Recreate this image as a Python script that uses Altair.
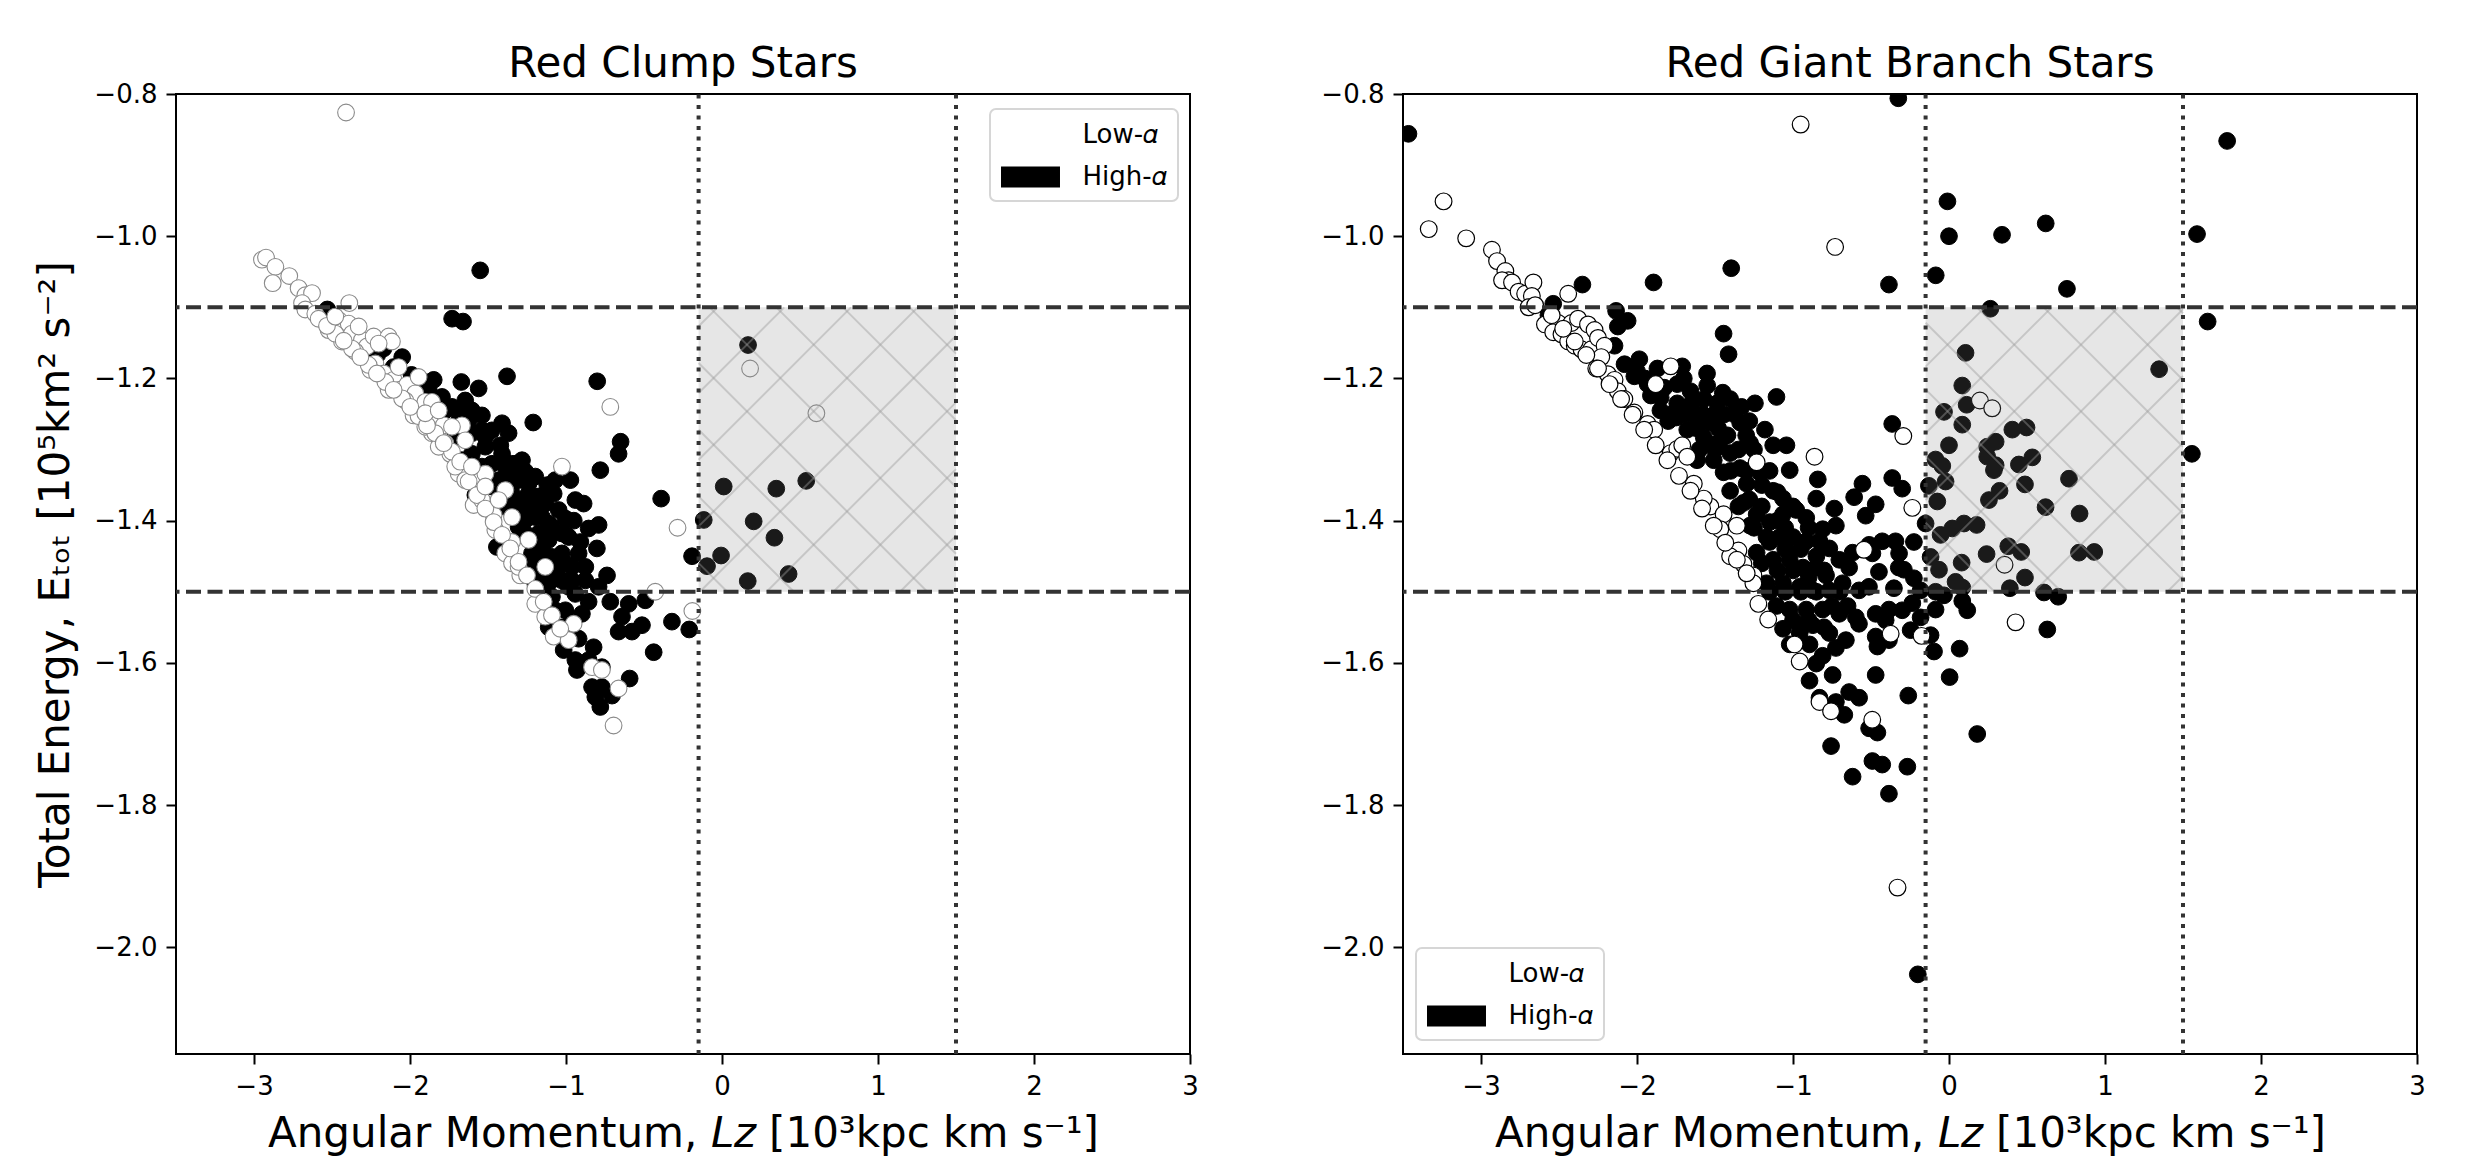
import altair as alt
import pandas as pd

FONT = "DejaVu Sans"
W, H = 1014, 960
XMIN, XMAX = -3.5, 3.0
YMIN, YMAX = -2.15, -0.8

# ---------------- Red Clump : low-alpha (open circles) ----------------
rc_low = [
    (-2.41, -0.826),
    (-2.949, -1.033), (-2.923, -1.030), (-2.863, -1.043), (-2.88, -1.066), (-2.774, -1.056),
    (-2.714, -1.073), (-2.671, -1.083), (-2.628, -1.080), (-2.692, -1.094), (-2.671, -1.103),
    (-2.607, -1.109), (-2.389, -1.094), (-2.457, -1.118), (-2.522, -1.132), (-2.393, -1.123),
    (-2.372, -1.137), (-2.436, -1.148), (-2.308, -1.146), (-2.276, -1.155), (-2.233, -1.141),
    (-2.137, -1.141), (-2.116, -1.148), (-2.351, -1.162), (-2.222, -1.179), (-2.254, -1.188),
    (-2.169, -1.193), (-2.105, -1.202), (-2.137, -1.216), (-2.073, -1.216), (-2.019, -1.209),
    (-1.966, -1.221), (-2.03, -1.231), (-1.977, -1.252), (-1.902, -1.233), (-1.859, -1.233),
    (-1.848, -1.256), (-1.859, -1.277), (-1.902, -1.268), (-1.784, -1.266), (-1.774, -1.291),
    (-1.742, -1.306), (-1.667, -1.266), (-1.816, -1.296), (-1.688, -1.334), (-1.646, -1.343),
    (-1.71, -1.324), (-1.592, -1.378), (-1.539, -1.371), (-1.517, -1.334), (-1.464, -1.392),
    (-1.453, -1.413), (-1.389, -1.357), (-1.346, -1.43), (-1.389, -1.446), (-1.346, -1.46),
    (-1.293, -1.477), (-1.304, -1.465), (-1.197, -1.517), (-1.133, -1.535), (-1.026, -1.324),
    (-1.079, -1.563), (-0.983, -1.568), (-0.951, -1.545), (-0.833, -1.606), (-0.77, -1.610),
    (-0.695, -1.688), (-0.716, -1.240), (-0.663, -1.636), (-0.428, -1.50),
    (-2.586, -1.116), (-2.479, -1.137), (-2.372, -1.158), (-2.265, -1.181), (-2.158, -1.205),
    (-2.051, -1.228), (-1.945, -1.253), (-1.838, -1.277), (-1.731, -1.303),
    (-2.532, -1.126), (-2.425, -1.147), (-2.318, -1.17), (-2.212, -1.193), (-2.105, -1.216),
    (-1.998, -1.24), (-1.891, -1.266), (-1.784, -1.291), (-1.678, -1.317),
    (-1.624, -1.345), (-1.571, -1.364), (-1.517, -1.383), (-1.464, -1.402), (-1.41, -1.42),
    (-1.357, -1.439), (-1.304, -1.458), (-1.25, -1.477), (-1.197, -1.496), (-1.143, -1.514),
    (-1.09, -1.533), (-1.037, -1.552),
    (-2.479, -1.113), (-2.329, -1.127), (-2.201, -1.151), (-2.073, -1.184), (-1.945, -1.198),
    (-1.902, -1.249), (-1.816, -1.245), (-1.731, -1.268), (-1.646, -1.287), (-1.603, -1.324),
    (-1.517, -1.352), (-1.432, -1.371), (-1.346, -1.395), (-1.24, -1.427), (-1.133, -1.465),
    (0.18, -1.186), (0.605, -1.249), (-0.285, -1.41), (-0.19, -1.527),
]
rc_low_x = [p[0] for p in rc_low]
rc_low_y = [p[1] for p in rc_low]

# ---------------- Red Clump : high-alpha (filled black) ----------------
rc_high = [
    (-1.55, -1.048), (-1.73, -1.116), (-1.66, -1.12), (-2.53, -1.103), (-2.17, -1.158),
    (-2.21, -1.167), (-2.05, -1.170), (-2.105, -1.184), (-1.99, -1.195), (-1.902, -1.205),
    (-1.848, -1.202), (-1.671, -1.205), (-1.56, -1.214), (-1.378, -1.197), (-0.80, -1.204),
    (-1.21, -1.262), (-1.41, -1.263), (-1.368, -1.277), (-0.65, -1.289), (-0.663, -1.306),
    (-0.78, -1.329), (-0.39, -1.369), (-1.795, -1.226), (-1.731, -1.240), (-1.646, -1.231),
    (-1.806, -1.266), (-1.71, -1.282), (-1.624, -1.259), (-1.539, -1.273), (-1.517, -1.296),
    (-1.421, -1.294), (-1.475, -1.32), (-1.389, -1.324), (-1.261, -1.331), (-1.197, -1.338),
    (-1.069, -1.343), (-0.972, -1.343), (-1.581, -1.364), (-1.079, -1.362), (-0.94, -1.371),
    (-0.887, -1.376), (-0.791, -1.406), (-0.855, -1.411), (-0.802, -1.439), (-0.908, -1.43),
    (-0.983, -1.423), (-1.004, -1.397), (-1.047, -1.385), (-1.133, -1.376), (-1.197, -1.395),
    (-1.304, -1.381), (-1.346, -1.362), (-1.24, -1.362), (-1.261, -1.418), (-1.175, -1.418),
    (-1.09, -1.409), (-1.154, -1.446), (-1.026, -1.446), (-0.962, -1.465), (-0.876, -1.465),
    (-1.069, -1.470), (-1.175, -1.465), (-1.261, -1.463), (-1.197, -1.488), (-1.111, -1.488),
    (-1.026, -1.484), (-0.94, -1.503), (-0.876, -1.484), (-0.855, -1.514), (-0.737, -1.477),
    (-0.791, -1.493), (-0.716, -1.514), (-0.598, -1.517), (-0.492, -1.512), (-0.641, -1.535),
    (-0.663, -1.556), (-0.577, -1.556), (-0.513, -1.547), (-0.321, -1.542), (-0.438, -1.585),
    (-0.592, -1.622), (-0.919, -1.566), (-0.823, -1.578), (-1.015, -1.582), (-0.94, -1.596),
    (-0.855, -1.596), (-0.93, -1.610), (-0.77, -1.606), (-0.833, -1.634), (-0.77, -1.634),
    (-0.812, -1.648), (-0.78, -1.662), (-0.705, -1.646), (-1.111, -1.55), (-0.962, -1.538),
    (-1.069, -1.526), (-1.154, -1.512), (-1.443, -1.437), (-1.004, -1.526), (-1.41, -1.306),
    (-1.346, -1.334), (-1.304, -1.343), (-1.24, -1.348), (-1.304, -1.371), (-1.218, -1.381),
    (-1.154, -1.395), (-1.261, -1.399), (-1.111, -1.427), (-1.175, -1.432), (-1.09, -1.451),
    (-1.004, -1.46), (-1.133, -1.474), (-0.983, -1.493), (-0.898, -1.531), (-1.026, -1.55),
    (-0.983, -1.559), (-1.88, -1.216), (-1.774, -1.245), (-1.688, -1.249), (-1.603, -1.245),
    (-1.539, -1.252), (-1.517, -1.282), (-1.603, -1.306), (-1.667, -1.315), (-1.539, -1.324),
    (-1.432, -1.343), (-1.475, -1.352), (-1.368, -1.352), (-1.282, -1.315), (-1.325, -1.32),
    (-1.175, -1.366), (-1.111, -1.404), (-1.026, -1.418), (-1.304, -1.409), (-1.218, -1.446),
    (-0.962, -1.484), (-1.09, -1.507), (-0.919, -1.446), (-1.154, -1.493), (-1.475, -1.273),
    (-1.603, -1.277),
    (-1.35, -1.32), (-1.28, -1.42), (-1.15, -1.44), (-1.05, -1.48), (-1.22, -1.47),
    (-1.12, -1.35), (-1.0, -1.42), (-0.95, -1.40), (-1.4, -1.38),
    (0.167, -1.153), (0.011, -1.352), (0.348, -1.355), (0.54, -1.344), (-0.117, -1.399),
    (0.203, -1.401), (0.336, -1.424), (-0.006, -1.449), (-0.096, -1.464), (-0.192, -1.45),
    (0.427, -1.475), (0.165, -1.485), (-0.21, -1.553),
]
rc_high_x = [p[0] for p in rc_high]
rc_high_y = [p[1] for p in rc_high]

# ---------------- Red Giant Branch : low-alpha ----------------
rgb_low = [
    (-3.335, -0.99), (-3.24, -0.951), (-3.095, -1.003), (-0.951, -0.843), (-0.33, -1.916),
    (-0.73, -1.015),
    (-2.93, -1.019), (-2.897, -1.035), (-2.844, -1.049), (-2.823, -1.062), (-2.865, -1.062),
    (-2.801, -1.065), (-2.759, -1.078), (-2.717, -1.081), (-2.664, -1.065), (-2.674, -1.084),
    (-2.695, -1.10), (-2.653, -1.097), (-2.59, -1.124), (-2.505, -1.122), (-2.537, -1.135),
    (-2.441, -1.081), (-2.42, -1.122), (-2.378, -1.116), (-2.484, -1.138), (-2.441, -1.148),
    (-2.399, -1.154), (-2.356, -1.159), (-2.314, -1.124), (-2.272, -1.132), (-2.293, -1.159),
    (-2.25, -1.143), (-2.208, -1.154), (-2.229, -1.17), (-2.261, -1.186), (-2.187, -1.194),
    (-2.144, -1.202), (-2.123, -1.218), (-2.081, -1.229), (-2.017, -1.248), (-1.932, -1.264),
    (-1.89, -1.272), (-1.88, -1.208), (-1.784, -1.183), (-1.784, -1.305), (-1.742, -1.299),
    (-1.71, -1.294), (-1.678, -1.31), (-1.636, -1.348), (-1.53, -1.38), (-1.445, -1.391),
    (-1.36, -1.407), (-1.35, -1.442), (-1.254, -1.477), (-1.233, -1.318), (-1.222, -1.517),
    (-1.159, -1.539), (-0.99, -1.574), (-0.957, -1.598), (-0.862, -1.31), (-0.83, -1.655),
    (-0.756, -1.668), (-1.572, -1.369), (-1.466, -1.412), (-1.403, -1.45), (-1.318, -1.461),
    (-2.547, -1.111), (-2.399, -1.148), (-2.25, -1.186), (-2.102, -1.229), (-1.954, -1.272),
    (-1.805, -1.315), (-1.657, -1.358), (-1.508, -1.407), (-1.36, -1.455), (-1.254, -1.488),
    (-2.473, -1.13), (-2.325, -1.167), (-2.176, -1.208), (-2.028, -1.251), (-1.88, -1.294),
    (-1.731, -1.337), (-1.583, -1.383), (-1.434, -1.431), (-1.297, -1.474),
    (-0.293, -1.281), (0.198, -1.231), (0.277, -1.242), (-0.235, -1.382), (0.356, -1.462),
    (0.427, -1.543), (-0.176, -1.562), (-0.374, -1.559), (-0.492, -1.68), (-0.545, -1.441),
]
rgb_low_x = [p[0] for p in rgb_low]
rgb_low_y = [p[1] for p in rgb_low]

# ---------------- Red Giant Branch : high-alpha ----------------
rgb_high = [
    (-3.465, -0.856), (-0.325, -0.806), (1.783, -0.866), (-0.01, -0.951), (0.0, -1.0),
    (0.34, -0.998), (0.62, -0.982), (1.59, -0.997), (0.756, -1.074), (-0.085, -1.055),
    (0.265, -1.102), (1.658, -1.12), (1.347, -1.187), (1.557, -1.306), (-0.2, -2.038),
    (-2.35, -1.068), (-1.894, -1.065), (-1.396, -1.045), (-0.385, -1.068), (-2.537, -1.095),
    (-2.568, -1.111), (-2.134, -1.105), (-2.06, -1.119), (-2.123, -1.127), (-1.445, -1.137),
    (-1.413, -1.166), (-2.144, -1.154), (-1.985, -1.173), (-1.869, -1.186), (-1.71, -1.183),
    (-1.551, -1.193), (-1.106, -1.226), (-1.244, -1.235), (-1.403, -1.229), (-1.339, -1.262),
    (-1.18, -1.272), (-1.275, -1.291), (-1.042, -1.294), (-1.127, -1.294), (-1.021, -1.329),
    (-0.841, -1.342), (-0.851, -1.369), (-0.555, -1.348), (-0.608, -1.367), (-0.47, -1.377),
    (-0.534, -1.393), (-0.364, -1.264), (-0.364, -1.34), (-0.735, -1.383), (-0.725, -1.407),
    (-0.81, -1.412), (-2.017, -1.197), (-1.932, -1.208), (-1.826, -1.213), (-1.742, -1.208),
    (-1.657, -1.218), (-1.572, -1.229), (-1.487, -1.235), (-1.742, -1.235), (-1.636, -1.251),
    (-1.53, -1.262), (-1.445, -1.251), (-1.678, -1.272), (-1.572, -1.283), (-1.466, -1.288),
    (-1.403, -1.305), (-1.615, -1.315), (-1.508, -1.315), (-1.445, -1.332), (-1.339, -1.326),
    (-1.297, -1.348), (-1.212, -1.332), (-1.127, -1.358), (-1.064, -1.369), (-1.403, -1.358),
    (-1.318, -1.375), (-1.233, -1.391), (-1.149, -1.402), (-1.064, -1.391), (-0.979, -1.385),
    (-0.915, -1.396), (-1.276, -1.407), (-1.17, -1.423), (-1.085, -1.423), (-1.0, -1.423),
    (-0.915, -1.429), (-0.83, -1.429), (-0.767, -1.439), (-1.233, -1.445), (-1.127, -1.455),
    (-1.021, -1.455), (-0.936, -1.466), (-0.851, -1.466), (-0.788, -1.477), (-0.703, -1.455),
    (-0.618, -1.445), (-0.512, -1.434), (-0.428, -1.429), (-0.343, -1.429), (-0.64, -1.466),
    (-0.449, -1.472), (-0.322, -1.466), (-1.17, -1.488), (-1.064, -1.488), (-0.957, -1.493),
    (-0.873, -1.498), (-0.767, -1.498), (-0.682, -1.488), (-0.576, -1.498), (-1.106, -1.52),
    (-1.021, -1.525), (-0.915, -1.525), (-0.81, -1.525), (-0.703, -1.531), (-0.597, -1.536),
    (-0.47, -1.531), (-0.385, -1.525), (-0.47, -1.563), (-0.385, -1.568), (-1.064, -1.552),
    (-0.957, -1.558), (-0.873, -1.547), (-0.767, -1.558), (-0.661, -1.568), (-1.021, -1.574),
    (-0.894, -1.574), (-0.81, -1.59), (-0.725, -1.579), (-0.851, -1.601), (-0.746, -1.617),
    (-0.47, -1.617), (-0.894, -1.625), (-0.83, -1.649), (-0.725, -1.655), (-0.64, -1.641),
    (-0.576, -1.649), (-0.671, -1.673), (-0.512, -1.692), (-0.459, -1.698), (-0.756, -1.717),
    (-0.491, -1.738), (-0.428, -1.743), (-0.618, -1.76), (-0.385, -1.784), (-1.911, -1.224),
    (-1.848, -1.227), (-1.763, -1.248),
    (-2.08, -1.18), (-2.0, -1.19), (-1.95, -1.2), (-1.9, -1.215), (-1.85, -1.245),
    (-1.8, -1.26), (-1.75, -1.255), (-1.7, -1.25), (-1.7, -1.2), (-1.65, -1.235),
    (-1.62, -1.27), (-1.6, -1.3), (-1.55, -1.21), (-1.55, -1.29), (-1.5, -1.25),
    (-1.5, -1.3), (-1.48, -1.27), (-1.42, -1.28), (-1.4, -1.33), (-1.38, -1.25),
    (-1.35, -1.3), (-1.35, -1.38), (-1.3, -1.28), (-1.3, -1.33), (-1.28, -1.37),
    (-1.25, -1.3), (-1.25, -1.41), (-1.2, -1.35), (-1.2, -1.38), (-1.2, -1.46),
    (-1.15, -1.33), (-1.15, -1.43), (-1.15, -1.5), (-1.1, -1.36), (-1.1, -1.4),
    (-1.1, -1.47), (-1.05, -1.41), (-1.05, -1.44), (-1.05, -1.5), (-1.0, -1.38),
    (-1.0, -1.47), (-1.0, -1.54), (-0.95, -1.44), (-0.95, -1.5), (-0.95, -1.55),
    (-0.9, -1.41), (-0.9, -1.48), (-0.9, -1.54), (-0.85, -1.45), (-0.85, -1.5),
    (-0.8, -1.47), (-0.8, -1.55), (-0.75, -1.52), (-0.7, -1.5), (-0.65, -1.52),
    (-1.58, -1.25), (-1.45, -1.22), (-1.33, -1.24), (-1.28, -1.26),
    (0.106, -1.164), (0.085, -1.21), (0.113, -1.237), (-0.032, -1.247), (0.085, -1.265),
    (0.406, -1.272), (0.497, -1.269), (0.0, -1.294), (0.245, -1.296), (0.299, -1.289),
    (0.245, -1.31), (-0.086, -1.314), (-0.043, -1.323), (0.299, -1.322), (0.288, -1.329),
    (0.448, -1.321), (0.534, -1.311), (0.769, -1.341), (0.487, -1.349), (-0.022, -1.345),
    (-0.129, -1.351), (-0.3, -1.355), (-0.075, -1.373), (0.256, -1.371), (0.324, -1.358),
    (0.619, -1.381), (0.837, -1.39), (-0.15, -1.404), (-0.054, -1.42), (0.021, -1.411),
    (0.096, -1.404), (0.177, -1.406), (-0.225, -1.43), (-0.32, -1.446), (-0.118, -1.451),
    (-0.064, -1.469), (0.081, -1.459), (0.241, -1.447), (0.38, -1.436), (0.463, -1.444),
    (0.833, -1.445), (0.931, -1.444), (0.487, -1.48), (0.39, -1.495), (0.609, -1.501),
    (0.7, -1.507), (0.042, -1.486), (0.085, -1.494), (-0.086, -1.5), (-0.032, -1.505),
    (-0.182, -1.498), (-0.289, -1.469), (-0.225, -1.481), (-0.353, -1.495), (-0.513, -1.493),
    (-0.491, -1.446), (0.085, -1.513), (0.117, -1.526), (-0.086, -1.525), (-0.182, -1.536),
    (-0.235, -1.516), (-0.3, -1.526), (-0.406, -1.54), (-0.246, -1.554), (-0.118, -1.561),
    (-0.096, -1.584), (0.068, -1.58), (-0.459, -1.577), (-0.577, -1.545), (0.63, -1.553),
    (0.004, -1.62), (-0.261, -1.646), (0.181, -1.7), (-0.267, -1.746),
]
rgb_high_x = [p[0] for p in rgb_high]
rgb_high_y = [p[1] for p in rgb_high]

# region / guide lines
box_x = [-0.15, 1.5]
box_y = [-1.5, -1.1]
hlines_y = [-1.1, -1.5]
vlines_x = [-0.15, 1.5]
x_ticks = [-3, -2, -1, 0, 1, 2, 3]
y_ticks = [-2.0, -1.8, -1.6, -1.4, -1.2, -1.0, -0.8]
POPS = ["Low-𝛼", "High-𝛼"]

XTITLE = "Angular Momentum, 𝘓𝘻 [10³kpc km s⁻¹]"
YTITLE = "Total Energy, Eₜₒₜ [10⁵km² s⁻²]"


def to_data(X, Y):
    return (XMIN + X / W * (XMAX - XMIN), YMAX - Y / H * (YMAX - YMIN))


def hatch_df(ox, oy):
    s = 66.7
    X1 = (box_x[0] - XMIN) / (XMAX - XMIN) * W
    X2 = (box_x[1] - XMIN) / (XMAX - XMIN) * W
    Y1 = (YMAX - box_y[1]) / (YMAX - YMIN) * H
    Y2 = (YMAX - box_y[0]) / (YMAX - YMIN) * H
    a = 403.3 - (ox - oy)
    b = 1153.3 - (ox + oy)
    rows = []
    for k in range(-80, 80):
        c = a + k * s
        xa, xb = max(X1, Y1 + c), min(X2, Y2 + c)
        if xb - xa > 0.5:
            p, q = to_data(xa, xa - c), to_data(xb, xb - c)
            rows.append({"Lz": p[0], "E": p[1], "Lz2": q[0], "E2": q[1]})
        c = b + k * s
        xa, xb = max(X1, c - Y2), min(X2, c - Y1)
        if xb - xa > 0.5:
            p, q = to_data(xa, c - xa), to_data(xb, c - xb)
            rows.append({"Lz": p[0], "E": p[1], "Lz2": q[0], "E2": q[1]})
    return pd.DataFrame(rows)


def panel(lx, ly, hx, hy, title, low_edge, low_sw, legend_xy, show_ytitle, origin):
    df_hi = pd.DataFrame({"Lz": hx, "E": hy, "pop": [POPS[1]] * len(hx)})
    df_lo = pd.DataFrame({"Lz": lx, "E": ly, "pop": [POPS[0]] * len(lx)})

    xs = alt.Scale(domain=[XMIN, XMAX], nice=False, zero=False)
    ys = alt.Scale(domain=[YMIN, YMAX], nice=False, zero=False)
    xax = alt.Axis(values=x_ticks, format="d", title=XTITLE)
    yax = alt.Axis(values=y_ticks, format=".1f", title=YTITLE if show_ytitle else None)

    fill = alt.Fill("pop:N", scale=alt.Scale(domain=POPS, range=["white", "black"]),
                    legend=alt.Legend(
                        title=None, orient="none",
                        legendX=legend_xy[0], legendY=legend_xy[1],
                        symbolType="M-2,-0.72L2,-0.72L2,0.72L-2,0.72Z",
                        symbolSize=870, symbolStrokeWidth=0,
                        symbolStrokeColor="transparent", symbolOpacity=1,
                        symbolOffset=14.5, labelOffset=37,
                        labelFont=FONT, labelFontSize=26, labelColor="black",
                        padding=11, rowPadding=14, cornerRadius=6,
                        strokeColor="#d6d6d6", fillColor="white"))

    hi = alt.Chart(df_hi).mark_circle(size=280, opacity=1, clip=True,
                                      stroke="black", strokeWidth=1.0).encode(
        x=alt.X("Lz:Q", scale=xs, axis=xax),
        y=alt.Y("E:Q", scale=ys, axis=yax),
        fill=fill)
    lo = alt.Chart(df_lo).mark_circle(size=280, opacity=1, clip=True,
                                      stroke=low_edge, strokeWidth=low_sw).encode(
        x=alt.X("Lz:Q", scale=xs, axis=xax),
        y=alt.Y("E:Q", scale=ys, axis=yax),
        fill=fill)

    box = alt.Chart(pd.DataFrame({"Lz": [box_x[0]], "Lz2": [box_x[1]],
                                  "E": [box_y[0]], "E2": [box_y[1]]})).mark_rect(
        fill="#808080", opacity=0.2).encode(
        x=alt.X("Lz:Q", scale=xs, axis=xax), x2="Lz2:Q",
        y=alt.Y("E:Q", scale=ys, axis=yax), y2="E2:Q")

    hatch = alt.Chart(hatch_df(*origin)).mark_rule(
        color="#9a9a9a", opacity=0.42, strokeWidth=2).encode(
        x=alt.X("Lz:Q", scale=xs, axis=xax), x2="Lz2:Q",
        y=alt.Y("E:Q", scale=ys, axis=yax), y2="E2:Q")

    hl = alt.Chart(pd.DataFrame({"E": hlines_y})).mark_rule(
        color="#333333", strokeWidth=4, strokeDash=[15, 6.5]).encode(
        y=alt.Y("E:Q", scale=ys, axis=yax))

    vl = alt.Chart(pd.DataFrame({"Lz": vlines_x, "E": [YMIN, YMIN], "E2": [YMAX, YMAX]})).mark_rule(
        color="#333333", strokeWidth=4, strokeDash=[4, 6.5]).encode(
        x=alt.X("Lz:Q", scale=xs, axis=xax),
        y=alt.Y("E:Q", scale=ys, axis=yax), y2="E2:Q")

    return alt.layer(hi, lo, box, hatch, hl, vl).properties(
        width=W, height=H,
        title=alt.TitleParams(title, font=FONT, fontSize=42, fontWeight="normal",
                              color="black", anchor="middle", offset=-5))


left = panel(rc_low_x, rc_low_y, rc_high_x, rc_high_y, "Red Clump Stars",
             "#8a8a8a", 1.1, (814, 15), True, (174, 91))
right = panel(rgb_low_x, rgb_low_y, rgb_high_x, rgb_high_y, "Red Giant Branch Stars",
              "black", 1.2, (13, 854), False, (1401, 91))

chart = alt.hconcat(left, right, spacing=213, bounds="flush").resolve_scale(
    fill="independent"
).resolve_legend(fill="independent").properties(
    padding={"left": 25, "top": 34, "right": 10, "bottom": 10},
    background="white"
).configure_view(stroke="black", strokeWidth=2).configure_axis(
    labelFont=FONT, labelFontSize=26, labelColor="black", labelFlush=False,
    titleFont=FONT, titleFontSize=42, titleFontWeight="normal", titleColor="black",
    tickColor="black", tickWidth=2, tickSize=10, labelPadding=9,
    domain=False, grid=False
).configure_axisX(titlePadding=14).configure_axisY(titlePadding=16).configure_legend(
    strokeWidth=2
)

chart.save("out.html", embed_options={"renderer": "svg", "actions": False})
